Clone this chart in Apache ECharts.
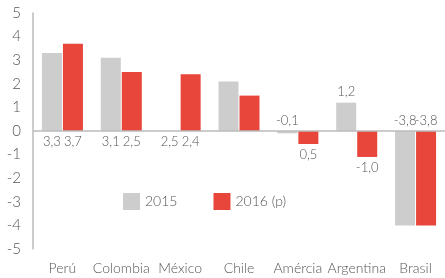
<!DOCTYPE html>
<html><head><meta charset="utf-8">
<script src="https://cdn.jsdelivr.net/npm/echarts@6/dist/echarts.min.js"></script>
<style>html,body{margin:0;padding:0;background:#fff}#c{width:445px;height:278px}</style>
</head><body><div id="c"></div>
<script>
const categories = ['Perú','Colombia','México','Chile','Amércia','Argentina','Brasil'];
const series2015 = [3.3, 3.1, 0, 2.1, -0.1, 1.2, -4.0];
const series2016 = [3.7, 2.5, 2.4, 1.5, -0.55, -1.1, -4.0];
const labels2015 = ['3,3','3,1','2,5','','-0,1','1,2','-3,8'];
const labels2016 = ['3,7','2,5','2,4','','0,5','-1,0','-3,8'];
const labelPos2015 = ['bottom','bottom','bottom','bottom','top','top','top'];
const labelPos2016 = ['bottom','bottom','bottom','bottom','bottom','bottom','top'];
const yTicks = [-5,-4,-3,-2,-1,0,1,2,3,4,5];
const names = ['2015','2016 (p)'];

const font = 'Lato, "Open Sans", sans-serif';
function mk(vals, labs, pos) {
  return vals.map((v, i) => ({
    value: v,
    label: { show: labs[i] !== '', position: pos[i], formatter: labs[i], distance: 4 }
  }));
}
const chart = echarts.init(document.getElementById('c'), null, {renderer:'canvas'});
chart.setOption({
  animation: false,
  textStyle: { fontFamily: font },
  grid: { left: 33, right: 0, top: 13, bottom: 29, containLabel: false },
  legend: {
    data: names, left: 123, top: 193, padding: 0, itemWidth: 17, itemHeight: 17, itemGap: 36,
    icon: 'rect',
    textStyle: { fontSize: 14, color: '#555', fontFamily: font, fontWeight: 300 }
  },
  xAxis: {
    type: 'category', data: categories,
    axisLine: { show: false, onZero: false }, axisTick: { show: false },
    axisLabel: { margin: 12, fontSize: 14, color: '#555', fontFamily: font, fontWeight: 300, interval: 0 }
  },
  yAxis: {
    type: 'value', min: yTicks[0], max: yTicks[yTicks.length-1], interval: 1,
    axisLine: { show: true, lineStyle: { color: '#bbb', width: 1.5 } },
    axisTick: { show: false }, splitLine: { show: false },
    axisLabel: { margin: 12, fontSize: 15, color: '#555', fontFamily: font, fontWeight: 300 }
  },
  series: [
    {
      name: names[0], type: 'bar', barWidth: 20, barGap: '5%',
      itemStyle: { color: '#cdcdcd' },
      label: { fontSize: 13, color: '#555', fontFamily: font, fontWeight: 300 },
      data: mk(series2015, labels2015, labelPos2015),
      markLine: {
        silent: true, symbol: 'none', label: { show: false },
        lineStyle: { color: '#bbb', width: 1.5, type: 'solid' },
        data: [{ yAxis: 0 }]
      }
    },
    {
      name: names[1], type: 'bar', barWidth: 20,
      itemStyle: { color: '#e8453b' },
      label: { fontSize: 13, color: '#555', fontFamily: font, fontWeight: 300 },
      data: mk(series2016, labels2016, labelPos2016)
    }
  ]
});
</script></body></html>
